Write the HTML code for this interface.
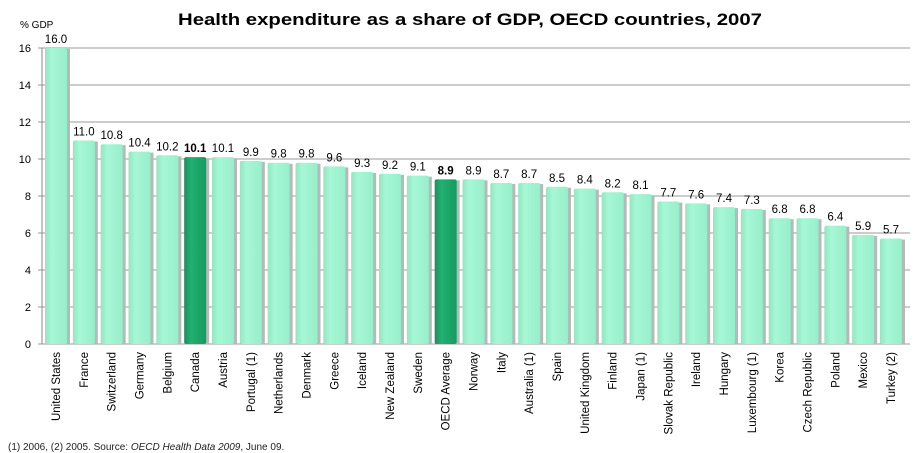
<!DOCTYPE html>
<html><head><meta charset="utf-8"><style>
html,body{margin:0;padding:0;background:#fff;}
svg{display:block;font-family:"Liberation Sans",sans-serif;}
</style></head><body>
<svg id="s" width="920" height="453" xmlns="http://www.w3.org/2000/svg">
<defs>
<linearGradient id="gl" x1="0" x2="1" y1="0" y2="0"><stop offset="0" stop-color="#8fe8c0"/><stop offset="0.3" stop-color="#a6f7d6"/><stop offset="1" stop-color="#98eecb"/></linearGradient>
<linearGradient id="gd" x1="0" x2="1" y1="0" y2="0"><stop offset="0" stop-color="#14935c"/><stop offset="0.3" stop-color="#22b072"/><stop offset="1" stop-color="#179a60"/></linearGradient>
</defs>
<text x="470" y="25" text-anchor="middle" font-size="17" font-weight="bold" textLength="584" lengthAdjust="spacingAndGlyphs">Health expenditure as a share of GDP, OECD countries, 2007</text>
<text x="20" y="28" font-size="10">% GDP</text>
<g id="g"></g>
<text x="8" y="450" font-size="10" fill="#222">(1) 2006, (2) 2005.   Source: <tspan font-style="italic">OECD Health Data 2009</tspan>, June 09.</text>
</svg>
<script>
var d=[["United States",16.0],["France",11.0],["Switzerland",10.8],["Germany",10.4],["Belgium",10.2],["Canada",10.1,1],["Austria",10.1],["Portugal (1)",9.9],["Netherlands",9.8],["Denmark",9.8],["Greece",9.6],["Iceland",9.3],["New Zealand",9.2],["Sweden",9.1],["OECD Average",8.9,1],["Norway",8.9],["Italy",8.7],["Australia (1)",8.7],["Spain",8.5],["United Kingdom",8.4],["Finland",8.2],["Japan (1)",8.1],["Slovak Republic",7.7],["Ireland",7.6],["Hungary",7.4],["Luxembourg (1)",7.3],["Korea",6.8],["Czech Republic",6.8],["Poland",6.4],["Mexico",5.9],["Turkey (2)",5.7]];
var h="";function y(v){return 344-v*18.5;}
for(var v=0;v<=16;v+=2){var yy=y(v);h+='<line x1="38" x2="910" y1="'+yy+'" y2="'+yy+'" stroke="#9a9a9a" stroke-width="1"/>';h+='<text x="31" y="'+(yy+4)+'" font-size="11" text-anchor="end">'+v+'</text>';}
h+='<line x1="42" x2="42" y1="48" y2="344" stroke="#888"/>';
var n=d.length, step=(880-45)/(n-1);
for(var i=0;i<n;i++){var x=45+i*step,v=d[i][1],t=y(v),dk=d[i][2];
h+='<rect x="'+(x+2)+'" y="'+(t+1)+'" width="23" height="'+(344-t-1)+'" fill="#b8b8b8"/>';
h+='<rect x="'+x+'" y="'+t+'" width="22" height="'+(344-t)+'" rx="2" fill="url(#'+(dk?'gd':'gl')+')"/>';
h+='<text x="'+(x+11)+'" y="'+(t-5)+'" font-size="11.5" text-anchor="middle"'+(dk?' font-weight="bold"':'')+'>'+v.toFixed(1)+'</text>';
h+='<text transform="translate('+(x+15)+',352) rotate(-90)" font-size="11.5" text-anchor="end">'+d[i][0]+'</text>';}
document.getElementById("g").innerHTML=h;
</script>
</body></html>
